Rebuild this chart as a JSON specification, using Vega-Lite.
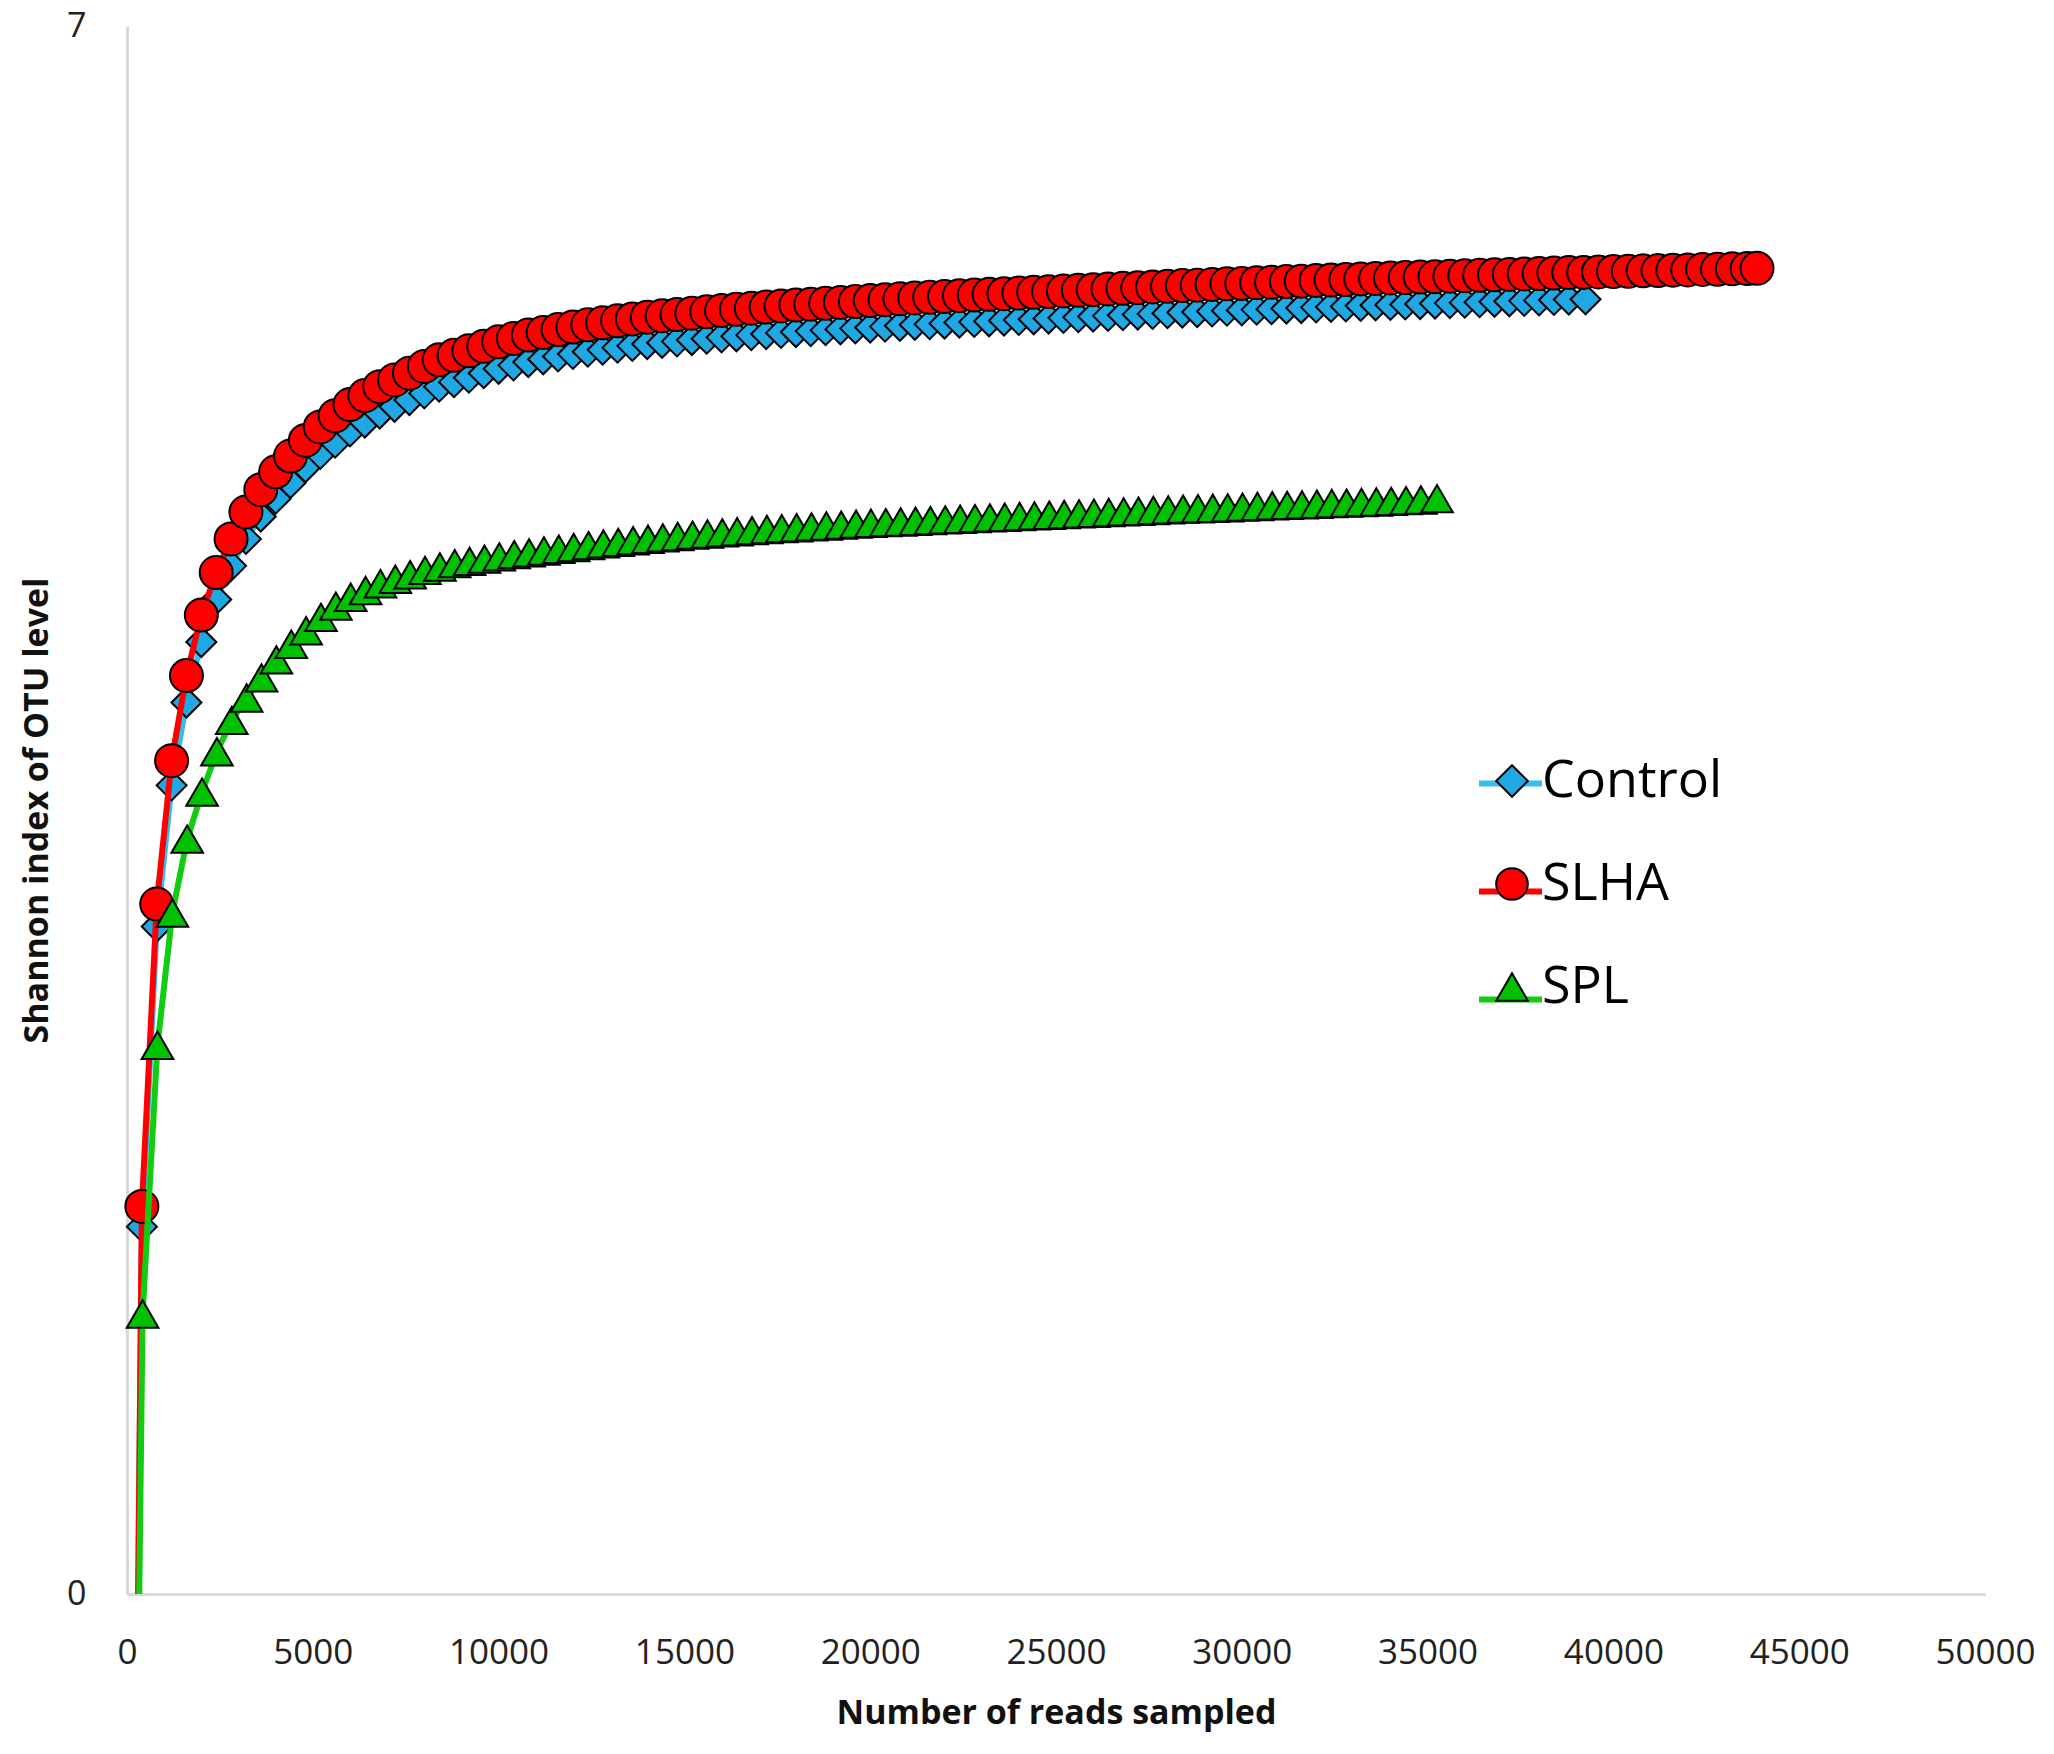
{
"$schema": "https://vega.github.io/schema/vega-lite/v6.json",
"width": 1858, "height": 1568,
"autosize": {"type": "none"},
"padding": {"left": 127, "top": 26, "right": 69, "bottom": 160},
"background": "white",
"config": {"view": {"stroke": null}, "font": "Open Sans"},
"data": {"values": [
{"sample":"Control","reads":300,"shannon":0},{"sample":"Control","reads":400,"shannon":1.64},{"sample":"Control","reads":800,"shannon":2.98},{"sample":"Control","reads":1200,"shannon":3.61},{"sample":"Control","reads":1600,"shannon":3.98},{"sample":"Control","reads":2000,"shannon":4.25},{"sample":"Control","reads":2400,"shannon":4.44},{"sample":"Control","reads":2800,"shannon":4.59},{"sample":"Control","reads":3200,"shannon":4.71},{"sample":"Control","reads":3600,"shannon":4.81},{"sample":"Control","reads":4000,"shannon":4.89},{"sample":"Control","reads":4400,"shannon":4.96},{"sample":"Control","reads":4800,"shannon":5.03},{"sample":"Control","reads":5200,"shannon":5.09},{"sample":"Control","reads":5600,"shannon":5.14},{"sample":"Control","reads":6000,"shannon":5.19},{"sample":"Control","reads":6400,"shannon":5.23},{"sample":"Control","reads":6800,"shannon":5.27},{"sample":"Control","reads":7200,"shannon":5.30},{"sample":"Control","reads":7600,"shannon":5.33},{"sample":"Control","reads":8000,"shannon":5.36},{"sample":"Control","reads":8400,"shannon":5.39},{"sample":"Control","reads":8800,"shannon":5.41},{"sample":"Control","reads":9200,"shannon":5.43},{"sample":"Control","reads":9600,"shannon":5.45},{"sample":"Control","reads":10000,"shannon":5.47},{"sample":"Control","reads":10400,"shannon":5.485},{"sample":"Control","reads":10800,"shannon":5.50},{"sample":"Control","reads":11200,"shannon":5.512},{"sample":"Control","reads":11600,"shannon":5.525},{"sample":"Control","reads":12000,"shannon":5.536},{"sample":"Control","reads":12400,"shannon":5.546},{"sample":"Control","reads":12800,"shannon":5.555},{"sample":"Control","reads":13200,"shannon":5.564},{"sample":"Control","reads":13600,"shannon":5.572},{"sample":"Control","reads":14000,"shannon":5.58},{"sample":"Control","reads":14400,"shannon":5.586},{"sample":"Control","reads":14800,"shannon":5.592},{"sample":"Control","reads":15200,"shannon":5.598},{"sample":"Control","reads":15600,"shannon":5.604},{"sample":"Control","reads":16000,"shannon":5.61},{"sample":"Control","reads":16400,"shannon":5.615},{"sample":"Control","reads":16800,"shannon":5.62},{"sample":"Control","reads":17200,"shannon":5.625},{"sample":"Control","reads":17600,"shannon":5.63},{"sample":"Control","reads":18000,"shannon":5.634},{"sample":"Control","reads":18400,"shannon":5.638},{"sample":"Control","reads":18800,"shannon":5.642},{"sample":"Control","reads":19200,"shannon":5.646},{"sample":"Control","reads":19600,"shannon":5.65},{"sample":"Control","reads":20000,"shannon":5.654},{"sample":"Control","reads":20400,"shannon":5.658},{"sample":"Control","reads":20800,"shannon":5.662},{"sample":"Control","reads":21200,"shannon":5.666},{"sample":"Control","reads":21600,"shannon":5.669},{"sample":"Control","reads":22000,"shannon":5.672},{"sample":"Control","reads":22400,"shannon":5.676},{"sample":"Control","reads":22800,"shannon":5.679},{"sample":"Control","reads":23200,"shannon":5.682},{"sample":"Control","reads":23600,"shannon":5.685},{"sample":"Control","reads":24000,"shannon":5.688},{"sample":"Control","reads":24400,"shannon":5.691},{"sample":"Control","reads":24800,"shannon":5.694},{"sample":"Control","reads":25200,"shannon":5.697},{"sample":"Control","reads":25600,"shannon":5.70},{"sample":"Control","reads":26000,"shannon":5.703},{"sample":"Control","reads":26400,"shannon":5.706},{"sample":"Control","reads":26800,"shannon":5.709},{"sample":"Control","reads":27200,"shannon":5.712},{"sample":"Control","reads":27600,"shannon":5.715},{"sample":"Control","reads":28000,"shannon":5.718},{"sample":"Control","reads":28400,"shannon":5.721},{"sample":"Control","reads":28800,"shannon":5.723},{"sample":"Control","reads":29200,"shannon":5.726},{"sample":"Control","reads":29600,"shannon":5.729},{"sample":"Control","reads":30000,"shannon":5.731},{"sample":"Control","reads":30400,"shannon":5.734},{"sample":"Control","reads":30800,"shannon":5.736},{"sample":"Control","reads":31200,"shannon":5.739},{"sample":"Control","reads":31600,"shannon":5.741},{"sample":"Control","reads":32000,"shannon":5.744},{"sample":"Control","reads":32400,"shannon":5.746},{"sample":"Control","reads":32800,"shannon":5.748},{"sample":"Control","reads":33200,"shannon":5.751},{"sample":"Control","reads":33600,"shannon":5.753},{"sample":"Control","reads":34000,"shannon":5.755},{"sample":"Control","reads":34400,"shannon":5.757},{"sample":"Control","reads":34800,"shannon":5.759},{"sample":"Control","reads":35200,"shannon":5.761},{"sample":"Control","reads":35600,"shannon":5.763},{"sample":"Control","reads":36000,"shannon":5.765},{"sample":"Control","reads":36400,"shannon":5.767},{"sample":"Control","reads":36800,"shannon":5.769},{"sample":"Control","reads":37200,"shannon":5.771},{"sample":"Control","reads":37600,"shannon":5.773},{"sample":"Control","reads":38000,"shannon":5.775},{"sample":"Control","reads":38400,"shannon":5.777},{"sample":"Control","reads":38800,"shannon":5.779},{"sample":"Control","reads":39250,"shannon":5.78},
{"sample":"SLHA","reads":300,"shannon":0},{"sample":"SLHA","reads":400,"shannon":1.73},{"sample":"SLHA","reads":800,"shannon":3.08},{"sample":"SLHA","reads":1200,"shannon":3.72},{"sample":"SLHA","reads":1600,"shannon":4.10},{"sample":"SLHA","reads":2000,"shannon":4.37},{"sample":"SLHA","reads":2400,"shannon":4.56},{"sample":"SLHA","reads":2800,"shannon":4.71},{"sample":"SLHA","reads":3200,"shannon":4.83},{"sample":"SLHA","reads":3600,"shannon":4.93},{"sample":"SLHA","reads":4000,"shannon":5.01},{"sample":"SLHA","reads":4400,"shannon":5.08},{"sample":"SLHA","reads":4800,"shannon":5.15},{"sample":"SLHA","reads":5200,"shannon":5.21},{"sample":"SLHA","reads":5600,"shannon":5.26},{"sample":"SLHA","reads":6000,"shannon":5.31},{"sample":"SLHA","reads":6400,"shannon":5.35},{"sample":"SLHA","reads":6800,"shannon":5.39},{"sample":"SLHA","reads":7200,"shannon":5.42},{"sample":"SLHA","reads":7600,"shannon":5.45},{"sample":"SLHA","reads":8000,"shannon":5.48},{"sample":"SLHA","reads":8400,"shannon":5.51},{"sample":"SLHA","reads":8800,"shannon":5.53},{"sample":"SLHA","reads":9200,"shannon":5.55},{"sample":"SLHA","reads":9600,"shannon":5.57},{"sample":"SLHA","reads":10000,"shannon":5.59},{"sample":"SLHA","reads":10400,"shannon":5.605},{"sample":"SLHA","reads":10800,"shannon":5.62},{"sample":"SLHA","reads":11200,"shannon":5.632},{"sample":"SLHA","reads":11600,"shannon":5.645},{"sample":"SLHA","reads":12000,"shannon":5.656},{"sample":"SLHA","reads":12400,"shannon":5.666},{"sample":"SLHA","reads":12800,"shannon":5.675},{"sample":"SLHA","reads":13200,"shannon":5.684},{"sample":"SLHA","reads":13600,"shannon":5.692},{"sample":"SLHA","reads":14000,"shannon":5.70},{"sample":"SLHA","reads":14400,"shannon":5.706},{"sample":"SLHA","reads":14800,"shannon":5.712},{"sample":"SLHA","reads":15200,"shannon":5.718},{"sample":"SLHA","reads":15600,"shannon":5.724},{"sample":"SLHA","reads":16000,"shannon":5.73},{"sample":"SLHA","reads":16400,"shannon":5.735},{"sample":"SLHA","reads":16800,"shannon":5.74},{"sample":"SLHA","reads":17200,"shannon":5.745},{"sample":"SLHA","reads":17600,"shannon":5.75},{"sample":"SLHA","reads":18000,"shannon":5.754},{"sample":"SLHA","reads":18400,"shannon":5.758},{"sample":"SLHA","reads":18800,"shannon":5.762},{"sample":"SLHA","reads":19200,"shannon":5.766},{"sample":"SLHA","reads":19600,"shannon":5.77},{"sample":"SLHA","reads":20000,"shannon":5.774},{"sample":"SLHA","reads":20400,"shannon":5.778},{"sample":"SLHA","reads":20800,"shannon":5.782},{"sample":"SLHA","reads":21200,"shannon":5.786},{"sample":"SLHA","reads":21600,"shannon":5.789},{"sample":"SLHA","reads":22000,"shannon":5.792},{"sample":"SLHA","reads":22400,"shannon":5.796},{"sample":"SLHA","reads":22800,"shannon":5.799},{"sample":"SLHA","reads":23200,"shannon":5.802},{"sample":"SLHA","reads":23600,"shannon":5.805},{"sample":"SLHA","reads":24000,"shannon":5.808},{"sample":"SLHA","reads":24400,"shannon":5.811},{"sample":"SLHA","reads":24800,"shannon":5.814},{"sample":"SLHA","reads":25200,"shannon":5.817},{"sample":"SLHA","reads":25600,"shannon":5.82},{"sample":"SLHA","reads":26000,"shannon":5.823},{"sample":"SLHA","reads":26400,"shannon":5.826},{"sample":"SLHA","reads":26800,"shannon":5.829},{"sample":"SLHA","reads":27200,"shannon":5.832},{"sample":"SLHA","reads":27600,"shannon":5.835},{"sample":"SLHA","reads":28000,"shannon":5.838},{"sample":"SLHA","reads":28400,"shannon":5.841},{"sample":"SLHA","reads":28800,"shannon":5.843},{"sample":"SLHA","reads":29200,"shannon":5.846},{"sample":"SLHA","reads":29600,"shannon":5.849},{"sample":"SLHA","reads":30000,"shannon":5.851},{"sample":"SLHA","reads":30400,"shannon":5.854},{"sample":"SLHA","reads":30800,"shannon":5.856},{"sample":"SLHA","reads":31200,"shannon":5.859},{"sample":"SLHA","reads":31600,"shannon":5.861},{"sample":"SLHA","reads":32000,"shannon":5.864},{"sample":"SLHA","reads":32400,"shannon":5.866},{"sample":"SLHA","reads":32800,"shannon":5.868},{"sample":"SLHA","reads":33200,"shannon":5.871},{"sample":"SLHA","reads":33600,"shannon":5.873},{"sample":"SLHA","reads":34000,"shannon":5.875},{"sample":"SLHA","reads":34400,"shannon":5.877},{"sample":"SLHA","reads":34800,"shannon":5.879},{"sample":"SLHA","reads":35200,"shannon":5.881},{"sample":"SLHA","reads":35600,"shannon":5.883},{"sample":"SLHA","reads":36000,"shannon":5.885},{"sample":"SLHA","reads":36400,"shannon":5.887},{"sample":"SLHA","reads":36800,"shannon":5.889},{"sample":"SLHA","reads":37200,"shannon":5.891},{"sample":"SLHA","reads":37600,"shannon":5.893},{"sample":"SLHA","reads":38000,"shannon":5.895},{"sample":"SLHA","reads":38400,"shannon":5.897},{"sample":"SLHA","reads":38800,"shannon":5.899},{"sample":"SLHA","reads":39200,"shannon":5.90},{"sample":"SLHA","reads":39600,"shannon":5.902},{"sample":"SLHA","reads":40000,"shannon":5.904},{"sample":"SLHA","reads":40400,"shannon":5.905},{"sample":"SLHA","reads":40800,"shannon":5.907},{"sample":"SLHA","reads":41200,"shannon":5.908},{"sample":"SLHA","reads":41600,"shannon":5.91},{"sample":"SLHA","reads":42000,"shannon":5.911},{"sample":"SLHA","reads":42400,"shannon":5.913},{"sample":"SLHA","reads":42800,"shannon":5.914},{"sample":"SLHA","reads":43200,"shannon":5.916},{"sample":"SLHA","reads":43600,"shannon":5.917},{"sample":"SLHA","reads":43865,"shannon":5.918},
{"sample":"SPL","reads":330,"shannon":0},{"sample":"SPL","reads":420,"shannon":1.25},{"sample":"SPL","reads":820,"shannon":2.45},{"sample":"SPL","reads":1220,"shannon":3.04},{"sample":"SPL","reads":1620,"shannon":3.37},{"sample":"SPL","reads":2020,"shannon":3.58},{"sample":"SPL","reads":2420,"shannon":3.76},{"sample":"SPL","reads":2820,"shannon":3.90},{"sample":"SPL","reads":3220,"shannon":4.00},{"sample":"SPL","reads":3620,"shannon":4.09},{"sample":"SPL","reads":4020,"shannon":4.17},{"sample":"SPL","reads":4420,"shannon":4.24},{"sample":"SPL","reads":4820,"shannon":4.30},{"sample":"SPL","reads":5220,"shannon":4.36},{"sample":"SPL","reads":5620,"shannon":4.41},{"sample":"SPL","reads":6020,"shannon":4.45},{"sample":"SPL","reads":6420,"shannon":4.48},{"sample":"SPL","reads":6820,"shannon":4.51},{"sample":"SPL","reads":7220,"shannon":4.53},{"sample":"SPL","reads":7620,"shannon":4.55},{"sample":"SPL","reads":8020,"shannon":4.57},{"sample":"SPL","reads":8420,"shannon":4.585},{"sample":"SPL","reads":8820,"shannon":4.60},{"sample":"SPL","reads":9220,"shannon":4.61},{"sample":"SPL","reads":9620,"shannon":4.62},{"sample":"SPL","reads":10020,"shannon":4.63},{"sample":"SPL","reads":10420,"shannon":4.64},{"sample":"SPL","reads":10820,"shannon":4.648},{"sample":"SPL","reads":11220,"shannon":4.656},{"sample":"SPL","reads":11620,"shannon":4.664},{"sample":"SPL","reads":12020,"shannon":4.672},{"sample":"SPL","reads":12420,"shannon":4.68},{"sample":"SPL","reads":12820,"shannon":4.688},{"sample":"SPL","reads":13220,"shannon":4.695},{"sample":"SPL","reads":13620,"shannon":4.702},{"sample":"SPL","reads":14020,"shannon":4.709},{"sample":"SPL","reads":14420,"shannon":4.715},{"sample":"SPL","reads":14820,"shannon":4.721},{"sample":"SPL","reads":15220,"shannon":4.727},{"sample":"SPL","reads":15620,"shannon":4.732},{"sample":"SPL","reads":16020,"shannon":4.737},{"sample":"SPL","reads":16420,"shannon":4.742},{"sample":"SPL","reads":16820,"shannon":4.747},{"sample":"SPL","reads":17220,"shannon":4.752},{"sample":"SPL","reads":17620,"shannon":4.756},{"sample":"SPL","reads":18020,"shannon":4.76},{"sample":"SPL","reads":18420,"shannon":4.764},{"sample":"SPL","reads":18820,"shannon":4.768},{"sample":"SPL","reads":19220,"shannon":4.772},{"sample":"SPL","reads":19620,"shannon":4.776},{"sample":"SPL","reads":20020,"shannon":4.78},{"sample":"SPL","reads":20420,"shannon":4.783},{"sample":"SPL","reads":20820,"shannon":4.786},{"sample":"SPL","reads":21220,"shannon":4.789},{"sample":"SPL","reads":21620,"shannon":4.792},{"sample":"SPL","reads":22020,"shannon":4.795},{"sample":"SPL","reads":22420,"shannon":4.798},{"sample":"SPL","reads":22820,"shannon":4.801},{"sample":"SPL","reads":23220,"shannon":4.804},{"sample":"SPL","reads":23620,"shannon":4.807},{"sample":"SPL","reads":24020,"shannon":4.81},{"sample":"SPL","reads":24420,"shannon":4.813},{"sample":"SPL","reads":24820,"shannon":4.816},{"sample":"SPL","reads":25220,"shannon":4.819},{"sample":"SPL","reads":25620,"shannon":4.822},{"sample":"SPL","reads":26020,"shannon":4.825},{"sample":"SPL","reads":26420,"shannon":4.828},{"sample":"SPL","reads":26820,"shannon":4.831},{"sample":"SPL","reads":27220,"shannon":4.834},{"sample":"SPL","reads":27620,"shannon":4.837},{"sample":"SPL","reads":28020,"shannon":4.84},{"sample":"SPL","reads":28420,"shannon":4.843},{"sample":"SPL","reads":28820,"shannon":4.845},{"sample":"SPL","reads":29220,"shannon":4.847},{"sample":"SPL","reads":29620,"shannon":4.849},{"sample":"SPL","reads":30020,"shannon":4.852},{"sample":"SPL","reads":30420,"shannon":4.855},{"sample":"SPL","reads":30820,"shannon":4.858},{"sample":"SPL","reads":31220,"shannon":4.86},{"sample":"SPL","reads":31620,"shannon":4.862},{"sample":"SPL","reads":32020,"shannon":4.865},{"sample":"SPL","reads":32420,"shannon":4.868},{"sample":"SPL","reads":32820,"shannon":4.87},{"sample":"SPL","reads":33220,"shannon":4.873},{"sample":"SPL","reads":33620,"shannon":4.875},{"sample":"SPL","reads":34020,"shannon":4.878},{"sample":"SPL","reads":34420,"shannon":4.881},{"sample":"SPL","reads":34820,"shannon":4.884},{"sample":"SPL","reads":35253,"shannon":4.89}
]},
"encoding": {
  "x": {"field": "reads", "type": "quantitative", "scale": {"domain": [0, 50000], "nice": false},
    "axis": {"values": [0,5000,10000,15000,20000,25000,30000,35000,40000,45000,50000], "format": "d", "ticks": false, "grid": false,
      "domainColor": "#d9d9d9", "domainWidth": 3, "labelFontSize": 35, "labelColor": "#222222", "labelPadding": 41, "labelFlush": false,
      "title": "Number of reads sampled", "titleFontSize": 34, "titleFontWeight": "bold", "titleColor": "#111111", "titlePadding": 26}},
  "y": {"field": "shannon", "type": "quantitative", "scale": {"domain": [0, 7], "nice": false},
    "axis": {"values": [0, 7], "ticks": false, "grid": false, "domainColor": "#d9d9d9", "domainWidth": 3,
      "labelFontSize": 34, "labelColor": "#222222", "labelPadding": 41, "labelFlush": false,
      "title": "Shannon index of OTU level", "titleFontSize": 34, "titleFontWeight": "bold", "titleColor": "#111111", "titlePadding": 12}}
},
"layer": [
  {"transform": [{"filter": "datum.sample === 'Control'"}], "mark": {"type": "line", "strokeWidth": 6},
   "encoding": {"stroke": {"field": "sample", "type": "nominal", "scale": {"domain": ["Control", "SLHA", "SPL"], "range": ["#35BDEF", "#FF0000", "#11CC11"]},
     "legend": {"orient": "none", "legendX": 1349, "legendY": 723, "title": null, "symbolType": "stroke", "symbolSize": 3969, "symbolStrokeWidth": 6, "labelFontSize": 52, "labelExpr": "''", "rowPadding": 47, "padding": 0}}}},
  {"transform": [{"filter": "datum.sample === 'Control' && datum.shannon > 0"}], "mark": {"type": "point", "filled": true, "stroke": "black", "strokeWidth": 2, "opacity": 1, "size": 900},
   "encoding": {"fill": {"field": "sample", "type": "nominal", "scale": {"range": ["#1FA8E3", "#FF0000", "#00C000"]},
     "legend": {"orient": "none", "legendX": 1359, "legendY": 729, "title": null, "symbolStrokeColor": "black", "symbolStrokeWidth": 2, "symbolSize": 1000, "symbolOpacity": 1, "labelFontSize": 52, "labelLimit": 500, "labelColor": "#000000", "labelOffset": 4, "rowPadding": 51, "padding": 0}},
     "shape": {"field": "sample", "type": "nominal", "scale": {"range": ["diamond", "circle", "triangle-up"]}}}},
  {"transform": [{"filter": "datum.sample === 'SLHA'"}], "mark": {"type": "line", "strokeWidth": 6},
   "encoding": {"stroke": {"field": "sample", "type": "nominal"}}},
  {"transform": [{"filter": "datum.sample === 'SLHA' && datum.shannon > 0"}], "mark": {"type": "point", "filled": true, "stroke": "black", "strokeWidth": 2, "opacity": 1, "size": 1089},
   "encoding": {"fill": {"field": "sample", "type": "nominal"}, "shape": {"field": "sample", "type": "nominal"}}},
  {"transform": [{"filter": "datum.sample === 'SPL'"}], "mark": {"type": "line", "strokeWidth": 6},
   "encoding": {"stroke": {"field": "sample", "type": "nominal"}}},
  {"transform": [{"filter": "datum.sample === 'SPL' && datum.shannon > 0"}], "mark": {"type": "point", "filled": true, "stroke": "black", "strokeWidth": 2, "opacity": 1, "size": 1000},
   "encoding": {"fill": {"field": "sample", "type": "nominal"}, "shape": {"field": "sample", "type": "nominal"}}}
]
}
